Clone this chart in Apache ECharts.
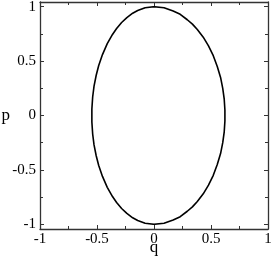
<!DOCTYPE html>
<html>
<head>
<meta charset="utf-8">
<script src="https://cdn.jsdelivr.net/npm/echarts@6/dist/echarts.min.js"></script>
<style>
html,body{margin:0;padding:0;background:#fff;}
#c{width:273px;height:261px;}
</style>
</head>
<body>
<div id="c"></div>
<script>
// Orbit points (q, p), traced clockwise from the top
var qValues = [0.000, 0.088, 0.168, 0.230, 0.292, 0.337, 0.380, 0.432, 0.478, 0.520, 0.555, 0.584, 0.603, 0.616, 0.622,
               0.622, 0.616, 0.603, 0.584, 0.555, 0.520, 0.478, 0.432, 0.380, 0.337, 0.292, 0.230, 0.168, 0.088, 0.000,
               -0.078, -0.143, -0.187, -0.238, -0.284, -0.328, -0.364, -0.410, -0.452, -0.485, -0.507, -0.526, -0.538, -0.545,
               -0.545, -0.538, -0.526, -0.507, -0.485, -0.452, -0.410, -0.364, -0.328, -0.284, -0.238, -0.187, -0.143, -0.078, 0.000];
var pValues = [1.000, 0.990, 0.960, 0.930, 0.880, 0.840, 0.790, 0.720, 0.640, 0.550, 0.450, 0.350, 0.250, 0.150, 0.050,
               -0.050, -0.150, -0.250, -0.350, -0.450, -0.550, -0.640, -0.720, -0.790, -0.840, -0.880, -0.930, -0.960, -0.990, -1.000,
               -0.990, -0.965, -0.940, -0.900, -0.855, -0.800, -0.745, -0.660, -0.560, -0.460, -0.370, -0.270, -0.170, -0.060,
               0.060, 0.170, 0.270, 0.370, 0.460, 0.560, 0.660, 0.745, 0.800, 0.855, 0.900, 0.940, 0.965, 0.990, 1.000];
var xTicks = [-1, -0.5, 0, 0.5, 1];
var yTicks = [-1, -0.5, 0, 0.5, 1];
var xName = 'q';
var yName = 'p';

var orbit = qValues.map(function (q, i) { return [q, pValues[i]]; });
var fontFam = '"Liberation Serif", "DejaVu Serif", serif';
var axisCol = '#333';
function fmt(v){ return String(v); }
var tickStyle = {show: true, inside: true, length: 4, lineStyle: {color: axisCol}};
var minorStyle = {show: true, splitNumber: 2, length: 3, lineStyle: {color: axisCol}};
var lineOn = {show: true, onZero: false, lineStyle: {color: axisCol, width: 1.3}};
var lineOff = {show: false, onZero: false};

var chart = echarts.init(document.getElementById('c'), null, {renderer: 'canvas'});
chart.setOption({
  animation: false,
  backgroundColor: '#fff',
  grid: [
    {left: 40, right: 5, top: 2, bottom: 32, containLabel: false, outerBoundsMode: 'none'},
    {left: 40, right: 5, top: 6.7, bottom: 36.7, containLabel: false, outerBoundsMode: 'none'}
  ],
  xAxis: [
    {gridIndex: 0, type: 'value', min: xTicks[0], max: xTicks[xTicks.length-1], interval: 0.5,
     position: 'bottom', name: xName, nameLocation: 'middle', nameGap: 10, nameMoveOverlap: false,
     nameTextStyle: {fontFamily: fontFam, fontSize: 17, color: '#000', verticalAlign: 'top'},
     axisLine: lineOn, axisTick: tickStyle, minorTick: minorStyle,
     axisLabel: {show: true, margin: 3, fontFamily: fontFam, fontSize: 15, color: '#000', formatter: fmt, hideOverlap: false},
     splitLine: {show: false}},
    {gridIndex: 0, type: 'value', min: -1, max: 1, interval: 0.5, position: 'top',
     axisLine: lineOn, axisTick: tickStyle, minorTick: minorStyle,
     axisLabel: {show: false}, splitLine: {show: false}},
    {gridIndex: 1, type: 'value', min: -1, max: 1, show: false, axisLine: lineOff}
  ],
  yAxis: [
    {gridIndex: 0, type: 'value', min: -1.05, max: 1.05, position: 'left',
     axisLine: lineOn, axisTick: {show: false}, axisLabel: {show: false}, splitLine: {show: false}},
    {gridIndex: 0, type: 'value', min: -1.05, max: 1.05, position: 'right',
     axisLine: lineOn, axisTick: {show: false}, axisLabel: {show: false}, splitLine: {show: false}},
    {gridIndex: 1, type: 'value', min: yTicks[0], max: yTicks[yTicks.length-1], interval: 0.5, position: 'left',
     name: yName, nameLocation: 'middle', nameGap: 30, nameRotate: 0, nameMoveOverlap: false,
     nameTextStyle: {fontFamily: fontFam, fontSize: 17, color: '#000'},
     axisLine: lineOff, axisTick: tickStyle, minorTick: minorStyle,
     axisLabel: {show: true, margin: 4, fontFamily: fontFam, fontSize: 15, color: '#000', formatter: fmt, hideOverlap: false},
     splitLine: {show: false}},
    {gridIndex: 1, type: 'value', min: -1, max: 1, interval: 0.5, position: 'right',
     axisLine: lineOff, axisTick: tickStyle, minorTick: minorStyle,
     axisLabel: {show: false}, splitLine: {show: false}}
  ],
  series: [{
    type: 'line', xAxisIndex: 2, yAxisIndex: 2, data: orbit,
    smooth: false, showSymbol: false, symbol: 'none',
    lineStyle: {color: '#000', width: 1.6, join: 'round'}
  }]
});
</script>
</body>
</html>
